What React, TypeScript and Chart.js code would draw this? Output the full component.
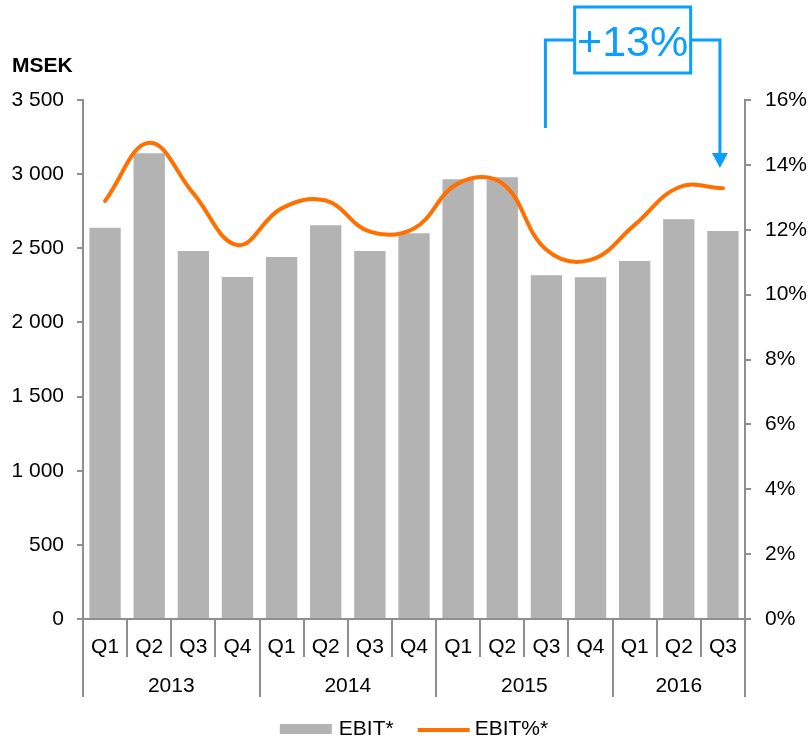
import React, { useEffect, useRef } from "react";
import { Chart, registerables } from "chart.js";

Chart.register(...registerables);

// ---- data ----
const quarters = ["Q1", "Q2", "Q3", "Q4", "Q1", "Q2", "Q3", "Q4", "Q1", "Q2", "Q3", "Q4", "Q1", "Q2", "Q3"];
const years = ["2013", "2014", "2015", "2016"];
const quartersPerYear = [4, 4, 4, 3];
const ebit = [2639, 3141, 2482, 2307, 2442, 2655, 2482, 2602, 2966, 2979, 2318, 2305, 2415, 2696, 2617];
const ebitPct = [12.89, 14.68, 13.12, 11.53, 12.66, 12.9, 11.94, 12.04, 13.43, 13.43, 11.38, 11.07, 12.15, 13.31, 13.28];
const seriesNames = ["EBIT*", "EBIT%*"];
const unitLabel = "MSEK";
const annotationText = "+13%";
const annotationFrom = 10; // Q3 2015
const annotationTo = 14; // Q3 2016

// ---- styles ----
const FONT = '"Liberation Sans", Arial, Helvetica, sans-serif';
const BAR_COLOR = "#B3B3B3";
const LINE_COLOR = "#FF7000";
const AXIS_COLOR = "#8F8F8F";
const BLUE = "#0A9EFF";

function fmtThousands(v: number): string {
  if (v >= 1000) {
    const th = Math.floor(v / 1000);
    const rest = String(v % 1000).padStart(3, "0");
    return `${th} ${rest}`;
  }
  return String(v);
}

const decorPlugin = {
  id: "decor",
  afterDraw(chart: any) {
    const ctx: CanvasRenderingContext2D = chart.ctx;
    const xs = chart.scales.x;
    const area = chart.chartArea;
    const half = (xs.getPixelForValue(1) - xs.getPixelForValue(0)) / 2;
    const bottom = area.bottom;
    ctx.save();

    // category separators
    ctx.strokeStyle = AXIS_COLOR;
    ctx.lineWidth = 2;
    const yearBounds = new Set<number>();
    let acc = 0;
    yearBounds.add(0);
    quartersPerYear.forEach((n) => {
      acc += n;
      yearBounds.add(acc);
    });
    for (let i = 0; i <= quarters.length; i++) {
      const px = Math.round(xs.getPixelForValue(Math.min(i, quarters.length - 1)) + (i === quarters.length ? half : -half));
      const len = yearBounds.has(i) ? 78 : 38;
      ctx.beginPath();
      ctx.moveTo(px, bottom);
      ctx.lineTo(px, bottom + len);
      ctx.stroke();
    }

    // quarter labels
    ctx.fillStyle = "#000";
    ctx.font = `21px ${FONT}`;
    ctx.textAlign = "center";
    ctx.textBaseline = "middle";
    quarters.forEach((q, i) => {
      ctx.fillText(q, xs.getPixelForValue(i), bottom + 28);
    });
    // year labels
    let start = 0;
    years.forEach((y, k) => {
      const n = quartersPerYear[k];
      const l = xs.getPixelForValue(start) - half;
      const r = xs.getPixelForValue(start + n - 1) + half;
      ctx.fillText(y, (l + r) / 2, bottom + 67);
      start += n;
    });

    // unit label
    ctx.font = `bold 21px ${FONT}`;
    ctx.textAlign = "left";
    ctx.textBaseline = "alphabetic";
    ctx.fillText(unitLabel, 12, 72);

    // legend
    ctx.font = `21px ${FONT}`;
    const w1 = ctx.measureText(seriesNames[0]).width;
    const w2 = ctx.measureText(seriesNames[1]).width;
    const sw = 52;
    const total = sw + 7 + w1 + 24 + sw + 5 + w2;
    let lx = (area.left + area.right) / 2 - total / 2;
    const ly = 729;
    ctx.fillStyle = BAR_COLOR;
    ctx.fillRect(lx, ly - 5, sw, 10);
    lx += sw + 7;
    ctx.fillStyle = "#000";
    ctx.textBaseline = "middle";
    ctx.fillText(seriesNames[0], lx, ly);
    lx += w1 + 24;
    ctx.strokeStyle = LINE_COLOR;
    ctx.lineWidth = 4;
    ctx.beginPath();
    ctx.moveTo(lx, ly + 1);
    ctx.lineTo(lx + sw, ly + 1);
    ctx.stroke();
    lx += sw + 5;
    ctx.fillText(seriesNames[1], lx, ly);

    // +13% annotation bracket
    const xl = xs.getPixelForValue(annotationFrom) - 1;
    const xr = xs.getPixelForValue(annotationTo) - 3;
    const top = area.top;
    const yLine = top - 60;
    const cx = (xl + xr) / 2;
    const bw = 116;
    const bh = 66;
    ctx.strokeStyle = BLUE;
    ctx.fillStyle = BLUE;
    ctx.lineWidth = 3;
    ctx.lineJoin = "miter";
    ctx.beginPath();
    ctx.moveTo(xl, top + 28);
    ctx.lineTo(xl, yLine);
    ctx.lineTo(cx - bw / 2, yLine);
    ctx.stroke();
    ctx.beginPath();
    ctx.moveTo(cx + bw / 2, yLine);
    ctx.lineTo(xr, yLine);
    ctx.lineTo(xr, top + 54);
    ctx.stroke();
    ctx.beginPath();
    ctx.moveTo(xr - 8, top + 53);
    ctx.lineTo(xr + 8, top + 53);
    ctx.lineTo(xr, top + 68);
    ctx.closePath();
    ctx.fill();
    ctx.strokeRect(cx - bw / 2, yLine - bh / 2, bw, bh);
    ctx.font = `43px ${FONT}`;
    ctx.textAlign = "center";
    ctx.textBaseline = "alphabetic";
    ctx.fillText(annotationText, cx, yLine + 16);

    ctx.restore();
  },
};

export default function App() {
  const ref = useRef<HTMLCanvasElement | null>(null);

  useEffect(() => {
    if (!ref.current) return;
    const tickFont = { family: FONT, size: 21 };
    const chart = new Chart(ref.current, {
      type: "bar",
      data: {
        labels: quarters,
        datasets: [
          {
            type: "line",
            label: seriesNames[1],
            data: ebitPct,
            yAxisID: "y1",
            borderColor: LINE_COLOR,
            backgroundColor: LINE_COLOR,
            borderWidth: 4,
            pointRadius: 0,
            tension: 0.4,
            borderCapStyle: "round",
            fill: false,
            order: 0,
          } as any,
          {
            type: "bar",
            label: seriesNames[0],
            data: ebit,
            yAxisID: "y",
            backgroundColor: BAR_COLOR,
            borderWidth: 0,
            barPercentage: 0.71,
            categoryPercentage: 1,
            order: 1,
          },
        ],
      },
      options: {
        responsive: false,
        animation: false,
        layout: { padding: { top: 100, left: 0, right: 0, bottom: 0 } },
        plugins: { legend: { display: false }, tooltip: { enabled: false } },
        scales: {
          x: {
            type: "category",
            offset: true,
            grid: { display: false },
            ticks: { display: false },
            border: { display: true, color: AXIS_COLOR, width: 2 },
            afterFit: (s: any) => {
              s.height = 122;
            },
          },
          y: {
            position: "left",
            min: 0,
            max: 3500,
            ticks: {
              stepSize: 500,
              font: tickFont,
              color: "#000",
              padding: 13,
              callback: (v: any) => fmtThousands(Number(v)),
            },
            grid: { drawOnChartArea: false, tickLength: 6, color: AXIS_COLOR, lineWidth: 2 },
            border: { color: AXIS_COLOR, width: 2 },
            afterFit: (s: any) => {
              s.width = 83;
            },
          },
          y1: {
            position: "right",
            min: 0,
            max: 16,
            ticks: {
              stepSize: 2,
              font: tickFont,
              color: "#000",
              padding: 14,
              callback: (v: any) => `${v}%`,
            },
            grid: { drawOnChartArea: false, tickLength: 6, color: AXIS_COLOR, lineWidth: 2 },
            border: { color: AXIS_COLOR, width: 2 },
            afterFit: (s: any) => {
              s.width = 66;
            },
          },
        },
      } as any,
      plugins: [decorPlugin],
    });
    return () => chart.destroy();
  }, []);

  return (
    <div style={{ position: "absolute", left: 0, top: 0, width: 811, height: 741 }}>
      <canvas ref={ref} width={811} height={741} style={{ display: "block", width: 811, height: 741 }} />
    </div>
  );
}
